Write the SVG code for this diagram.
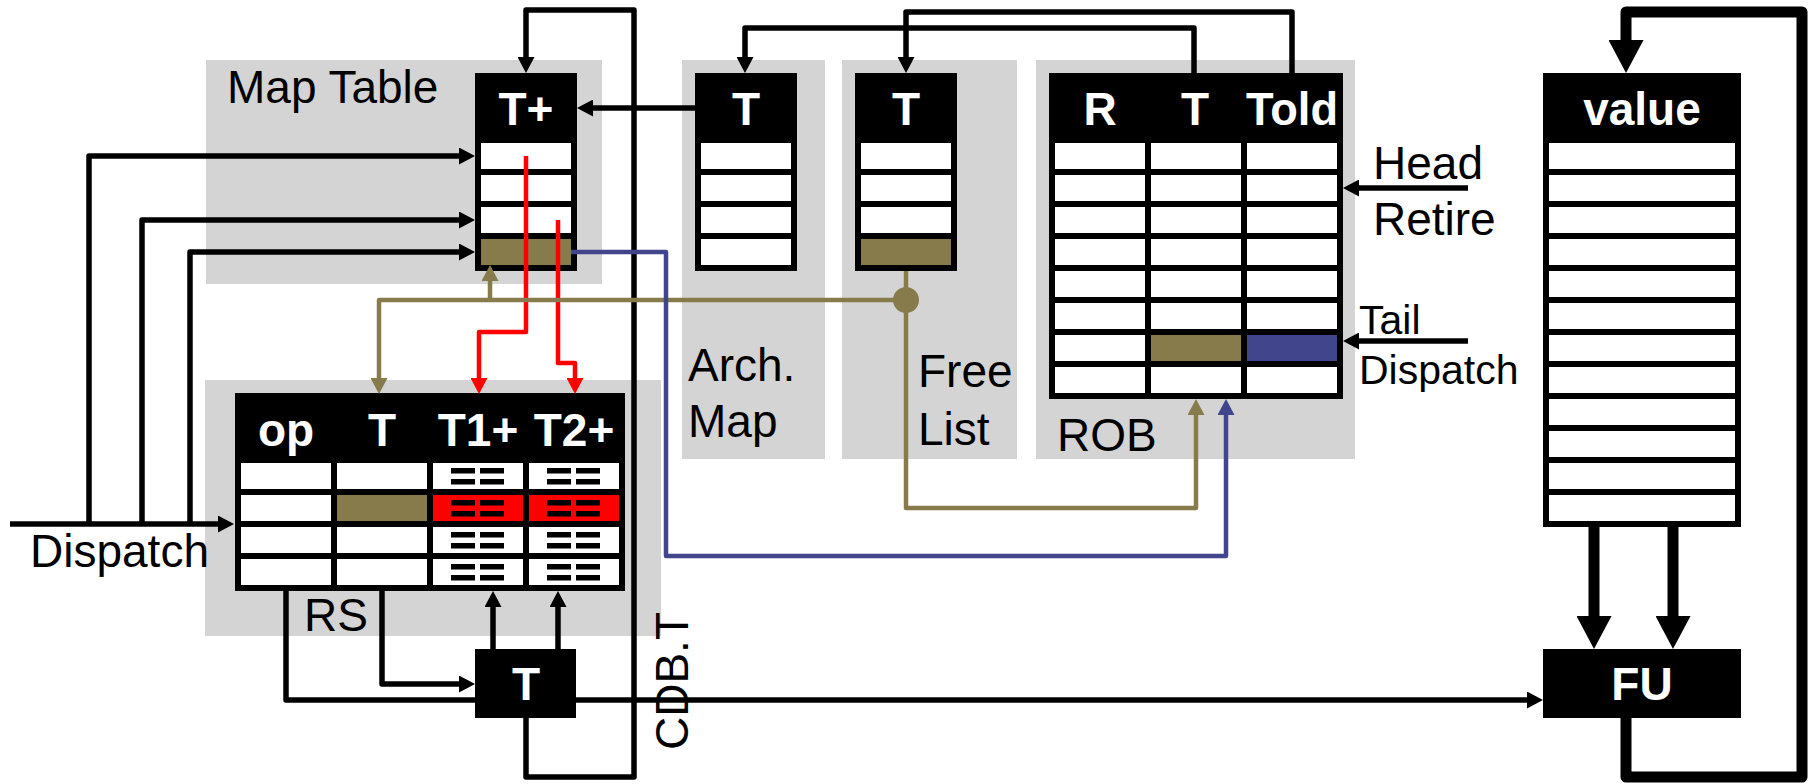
<svg xmlns="http://www.w3.org/2000/svg" width="1808" height="784" viewBox="0 0 1808 784">
<style>
.bg{fill:#d4d4d4}
.box{fill:#000}
.cell{fill:#fff}
.ol{fill:#877b4b}
.rd{fill:#ff0000}
.bl{fill:#41468c}
.lbl{font-family:"Liberation Sans",Arial,sans-serif;font-size:46px;fill:#000}
.sm{font-size:41px}
.hdr{font-family:"Liberation Sans",Arial,sans-serif;font-size:46px;font-weight:bold;fill:#fff;text-anchor:middle}
.k{fill:none;stroke:#000;stroke-width:5.5;stroke-linejoin:round}
.kk{fill:none;stroke:#000;stroke-width:11;stroke-linejoin:round}
.ro{fill:none;stroke:#ff0000;stroke-width:4.5;stroke-linejoin:round}
.oo{fill:none;stroke:#877b4b;stroke-width:4.5;stroke-linejoin:round}
.bo{fill:none;stroke:#41468c;stroke-width:4.5;stroke-linejoin:round}
</style>
<defs>
<marker id="ak" markerUnits="userSpaceOnUse" markerWidth="16" markerHeight="17" refX="6" refY="8.5" orient="auto"><path d="M0,0 L16,8.5 L0,17 z" fill="#000"/></marker>
<marker id="ar" markerUnits="userSpaceOnUse" markerWidth="16" markerHeight="17" refX="6" refY="8.5" orient="auto"><path d="M0,0 L16,8.5 L0,17 z" fill="#ff0000"/></marker>
<marker id="ao" markerUnits="userSpaceOnUse" markerWidth="16" markerHeight="17" refX="6" refY="8.5" orient="auto"><path d="M0,0 L16,8.5 L0,17 z" fill="#877b4b"/></marker>
<marker id="ab" markerUnits="userSpaceOnUse" markerWidth="16" markerHeight="17" refX="6" refY="8.5" orient="auto"><path d="M0,0 L16,8.5 L0,17 z" fill="#41468c"/></marker>
<marker id="akk" markerUnits="userSpaceOnUse" markerWidth="33" markerHeight="35" refX="13" refY="17.5" orient="auto"><path d="M0,0 L33,17.5 L0,35 z" fill="#000"/></marker>
<g id="eq"><rect x="18" y="5" width="24" height="5.5"/><rect x="47" y="5" width="24" height="5.5"/><rect x="18" y="16" width="24" height="5.5"/><rect x="47" y="16" width="24" height="5.5"/></g>
</defs>

<g id="backgrounds">
<rect class="bg" x="206" y="60" width="396" height="224"/>
<rect class="bg" x="682" y="60" width="143" height="399"/>
<rect class="bg" x="842" y="60" width="175" height="399"/>
<rect class="bg" x="1036" y="60" width="319" height="399"/>
<rect class="bg" x="205" y="380" width="456" height="256"/>
</g>

<g id="map-table">
<text class="lbl" x="227" y="103">Map Table</text>
<rect class="box" x="475" y="73" width="102" height="198"/>
<text class="hdr" x="526" y="125">T+</text>
<rect class="cell" x="481" y="143" width="90" height="26"/>
<rect class="cell" x="481" y="175" width="90" height="26"/>
<rect class="cell" x="481" y="207" width="90" height="26"/>
<rect class="ol" x="481" y="239" width="90" height="26"/>
</g>

<g id="arch-map">
<rect class="box" x="695" y="73" width="102" height="198"/>
<text class="hdr" x="746" y="125">T</text>
<rect class="cell" x="701" y="143" width="90" height="26"/>
<rect class="cell" x="701" y="175" width="90" height="26"/>
<rect class="cell" x="701" y="207" width="90" height="26"/>
<rect class="cell" x="701" y="239" width="90" height="26"/>
<text class="lbl" x="688" y="381">Arch.</text>
<text class="lbl" x="688" y="437">Map</text>
</g>

<g id="free-list">
<rect class="box" x="855" y="73" width="102" height="198"/>
<text class="hdr" x="906" y="125">T</text>
<rect class="cell" x="861" y="143" width="90" height="26"/>
<rect class="cell" x="861" y="175" width="90" height="26"/>
<rect class="cell" x="861" y="207" width="90" height="26"/>
<rect class="ol" x="861" y="239" width="90" height="26"/>
<text class="lbl" x="918" y="387">Free</text>
<text class="lbl" x="918" y="445">List</text>
</g>

<g id="rob">
<rect class="box" x="1049" y="73" width="294" height="326"/>
<text class="hdr" x="1100" y="125">R</text>
<text class="hdr" x="1195" y="125">T</text>
<text class="hdr" x="1292" y="125" textLength="92" lengthAdjust="spacingAndGlyphs">Told</text>
<g class="cell">
<rect x="1055" y="143" width="90" height="26"/><rect x="1151" y="143" width="90" height="26"/><rect x="1247" y="143" width="90" height="26"/>
<rect x="1055" y="175" width="90" height="26"/><rect x="1151" y="175" width="90" height="26"/><rect x="1247" y="175" width="90" height="26"/>
<rect x="1055" y="207" width="90" height="26"/><rect x="1151" y="207" width="90" height="26"/><rect x="1247" y="207" width="90" height="26"/>
<rect x="1055" y="239" width="90" height="26"/><rect x="1151" y="239" width="90" height="26"/><rect x="1247" y="239" width="90" height="26"/>
<rect x="1055" y="271" width="90" height="26"/><rect x="1151" y="271" width="90" height="26"/><rect x="1247" y="271" width="90" height="26"/>
<rect x="1055" y="303" width="90" height="26"/><rect x="1151" y="303" width="90" height="26"/><rect x="1247" y="303" width="90" height="26"/>
<rect x="1055" y="335" width="90" height="26"/>
<rect x="1055" y="367" width="90" height="26"/><rect x="1151" y="367" width="90" height="26"/><rect x="1247" y="367" width="90" height="26"/>
</g>
<rect class="ol" x="1151" y="335" width="90" height="26"/>
<rect class="bl" x="1247" y="335" width="90" height="26"/>
<text class="lbl" x="1057" y="451">ROB</text>
</g>

<g id="head-tail">
<text class="lbl" x="1373" y="179">Head</text>
<text class="lbl" x="1373" y="235">Retire</text>
<text class="lbl sm" x="1359" y="334">Tail</text>
<text class="lbl sm" x="1359" y="384">Dispatch</text>
</g>

<g id="rs">
<rect class="box" x="235" y="393" width="390" height="198"/>
<text class="hdr" x="286" y="446">op</text>
<text class="hdr" x="382" y="446">T</text>
<text class="hdr" x="478" y="446">T1+</text>
<text class="hdr" x="574" y="446">T2+</text>
<g class="cell">
<rect x="241" y="463" width="90" height="26"/><rect x="337" y="463" width="90" height="26"/><rect x="433" y="463" width="90" height="26"/><rect x="529" y="463" width="90" height="26"/>
<rect x="241" y="495" width="90" height="26"/>
<rect x="241" y="527" width="90" height="26"/><rect x="337" y="527" width="90" height="26"/><rect x="433" y="527" width="90" height="26"/><rect x="529" y="527" width="90" height="26"/>
<rect x="241" y="559" width="90" height="26"/><rect x="337" y="559" width="90" height="26"/><rect x="433" y="559" width="90" height="26"/><rect x="529" y="559" width="90" height="26"/>
</g>
<rect class="ol" x="337" y="495" width="90" height="26"/>
<rect class="rd" x="433" y="495" width="90" height="26"/>
<rect class="rd" x="529" y="495" width="90" height="26"/>
<use href="#eq" x="433" y="463"/><use href="#eq" x="529" y="463"/>
<use href="#eq" x="433" y="495"/><use href="#eq" x="529" y="495"/>
<use href="#eq" x="433" y="527"/><use href="#eq" x="529" y="527"/>
<use href="#eq" x="433" y="559"/><use href="#eq" x="529" y="559"/>
<text class="lbl" x="304" y="631">RS</text>
</g>

<g id="dispatch-label">
<text class="lbl" x="30" y="567">Dispatch</text>
</g>

<g id="cdb-tag">
<rect class="box" x="475" y="649" width="101" height="69"/>
<text class="hdr" x="526" y="700">T</text>
</g>

<g id="cdb-label">
<text class="lbl" transform="translate(688,750) rotate(-90)">CDB.T</text>
</g>

<g id="value-file">
<rect class="box" x="1543" y="73" width="198" height="454"/>
<text class="hdr" x="1642" y="125">value</text>
<g class="cell">
<rect x="1549" y="143" width="186" height="26"/><rect x="1549" y="175" width="186" height="26"/><rect x="1549" y="207" width="186" height="26"/>
<rect x="1549" y="239" width="186" height="26"/><rect x="1549" y="271" width="186" height="26"/><rect x="1549" y="303" width="186" height="26"/>
<rect x="1549" y="335" width="186" height="26"/><rect x="1549" y="367" width="186" height="26"/><rect x="1549" y="399" width="186" height="26"/>
<rect x="1549" y="431" width="186" height="26"/><rect x="1549" y="463" width="186" height="26"/><rect x="1549" y="495" width="186" height="26"/>
</g>
</g>

<g id="fu">
<rect class="box" x="1543" y="649" width="198" height="69"/>
<text class="hdr" x="1642" y="700">FU</text>
</g>

<g id="connectors">
<path class="k" d="M526,718 V777 H634 V10 H526 V63" marker-end="url(#ak)"/>
<path class="k" d="M696,108 H587" marker-end="url(#ak)"/>
<path class="k" d="M89,524 V156 H465" marker-end="url(#ak)"/>
<path class="k" d="M142,524 V220 H465" marker-end="url(#ak)"/>
<path class="k" d="M190,524 V252 H465" marker-end="url(#ak)"/>
<path class="k" d="M10,524 H224" marker-end="url(#ak)"/>
<path class="k" d="M286,591 V700 H475"/>
<path class="k" d="M382,591 V684 H465" marker-end="url(#ak)"/>
<path class="k" d="M493,649 V601" marker-end="url(#ak)"/>
<path class="k" d="M558,649 V601" marker-end="url(#ak)"/>
<path class="k" d="M576,700 H1533" marker-end="url(#ak)"/>
<path class="k" d="M1194,73 V28 H745 V63" marker-end="url(#ak)"/>
<path class="k" d="M1292,73 V12 H906 V63" marker-end="url(#ak)"/>
<path class="k" d="M1468,188 H1353" marker-end="url(#ak)"/>
<path class="k" d="M1468,341 H1353" marker-end="url(#ak)"/>
<path class="kk" d="M1626,718 V777 H1802 V12 H1626 V53" marker-end="url(#akk)"/>
<path class="kk" d="M1594,527 V629" marker-end="url(#akk)"/>
<path class="kk" d="M1673,527 V629" marker-end="url(#akk)"/>
<path class="ro" d="M526,156 V332 H479 V384" marker-end="url(#ar)"/>
<path class="ro" d="M558,220 V363 H575 V384" marker-end="url(#ar)"/>
<path class="oo" d="M906,271 V508 H1196 V409" marker-end="url(#ao)"/>
<path class="oo" d="M906,300 H379 V384" marker-end="url(#ao)"/>
<path class="oo" d="M490,300 V275" marker-end="url(#ao)"/>
<circle cx="906" cy="300" r="13" fill="#877b4b"/>
<path class="bo" d="M571,252 H666 V556 H1226 V409" marker-end="url(#ab)"/>
</g>
</svg>
